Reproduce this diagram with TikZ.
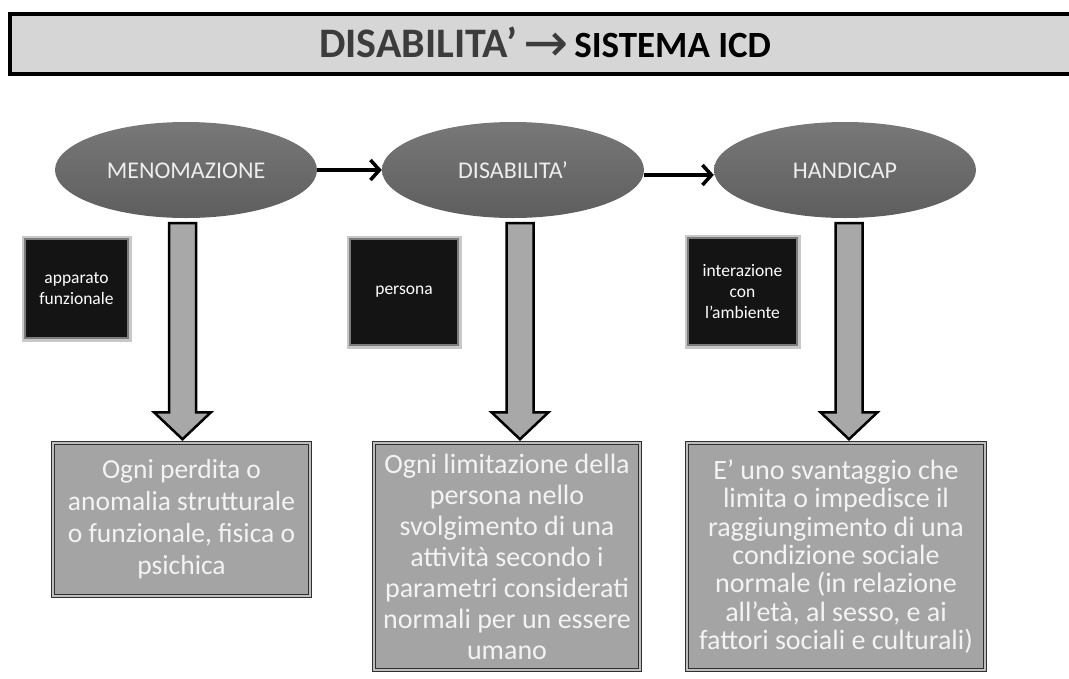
\documentclass[tikz,border=0pt]{standalone}
\usepackage{fontspec}
\setmainfont{Carlito}
\newfontfamily\symbfont{DejaVu Sans}
\usetikzlibrary{shapes.geometric,calc,arrows.meta}
\definecolor{titlefill}{HTML}{D6D6D6}
\definecolor{titlegray}{HTML}{3C3C3C}
\definecolor{phasetop}{HTML}{787878}
\definecolor{phasebot}{HTML}{5E5E5E}
\definecolor{phasetext}{HTML}{EDEDED}
\definecolor{areafill}{HTML}{141414}
\definecolor{areaframe}{HTML}{7C7C7C}
\definecolor{arearing}{HTML}{C8C8C8}
\definecolor{descfill}{HTML}{A4A4A4}
\definecolor{descline}{HTML}{303030}
\definecolor{descgap}{HTML}{BEBEBE}
\definecolor{desctext}{HTML}{F3F3F3}
\definecolor{shaftfill}{HTML}{A8A8A8}
\begin{document}
\begin{tikzpicture}[x=1pt,y=-1pt,
	titlebar/.style={draw=black,line width=4pt,fill=titlefill,minimum width=1070pt,minimum height=60pt,inner sep=0pt},
	phase/.style={ellipse,top color=phasetop,bottom color=phasebot,text=phasetext,minimum width=262pt,minimum height=96pt,inner sep=0pt,text height=20pt,text depth=4pt,font=\fontsize{24}{28}\selectfont},
	areabox/.style={preaction={draw=arearing,line width=7pt},draw=areaframe,line width=2pt,fill=areafill,text=white,align=center,inner sep=2pt,font=\fontsize{17.5}{21}\selectfont},
	descbox/.style={draw=descline,line width=1.5pt,double=descgap,double distance=1.5pt,fill=descfill,text=desctext,align=center,inner sep=1pt},
	flow/.style={line width=3.5pt,-{Straight Barb[length=9pt,width=20pt]}},
	blockarrow/.style={draw=black,line width=2.5pt,fill=shaftfill,line join=miter}]
	\useasboundingbox (0,0) rectangle (1069,678);
	\node[titlebar] (title) at (545,44) {{\color{titlegray}\fontsize{42}{42}\selectfont\bfseries DISABILITA’}\hspace{6pt}\raisebox{-4pt}{\color{titlegray}\symbfont\fontsize{54}{42}\selectfont →}\hspace{6pt}{\fontsize{37}{37}\selectfont\bfseries SISTEMA ICD}};
	\node[phase] (men) at (186,170) {MENOMAZIONE};
	\node[phase] (dis) at (513,170) {DISABILITA’};
	\node[phase] (hand) at (845,170) {HANDICAP};
	\draw[flow] (men.east) -- (dis.west);
	\draw[flow] ([yshift=-5pt]dis.east) -- ([yshift=-5pt]hand.west);
	\node[areabox,minimum width=103pt,minimum height=99pt] (app) at (76.5,288.5) {apparato\\funzionale};
	\node[areabox,minimum width=108pt,minimum height=106pt] (pers) at (404,292) {persona};
	\node[areabox,minimum width=109pt,minimum height=107pt] (amb) at (742.5,291.5) {interazione\\con\\l’ambiente};
	\node[descbox,minimum width=257pt,minimum height=153pt,font=\fontsize{27.5}{32}\selectfont] (descmen) at (181.5,519.5) {Ogni perdita o\\anomalia strutturale\\o funzionale, fisica o\\psichica};
	\node[descbox,minimum width=266pt,minimum height=227pt,font=\fontsize{28}{31}\selectfont] (descdis) at (507,556.5) {Ogni limitazione della\\persona nello\\svolgimento di una\\attività secondo i\\parametri considerati\\normali per un essere\\umano};
	\node[descbox,minimum width=298pt,minimum height=227pt,font=\fontsize{28}{28.3}\selectfont] (deschand) at (836,556.5) {E’ uno svantaggio che\\limita o impedisce il\\raggiungimento di una\\condizione sociale\\normale (in relazione\\all’età, al sesso, e ai\\fattori sociali e culturali)};
	\coordinate (mtop) at (182.5,223);
	\coordinate (dtop) at (520,223);
	\coordinate (htop) at (849,223);
	\foreach \s/\e in {mtop/descmen,dtop/descdis,htop/deschand}{
		\coordinate (tip) at ($(\e.north -| \s)+(0,-3)$);
		\draw[blockarrow] ($(\s)+(-13.5,0)$) -- ($(tip)+(-13.5,-27)$) -- ($(tip)+(-28.5,-27)$) -- (tip) -- ($(tip)+(28.5,-27)$) -- ($(tip)+(13.5,-27)$) -- ($(\s)+(13.5,0)$) -- cycle;
	}
\end{tikzpicture}
\end{document}
